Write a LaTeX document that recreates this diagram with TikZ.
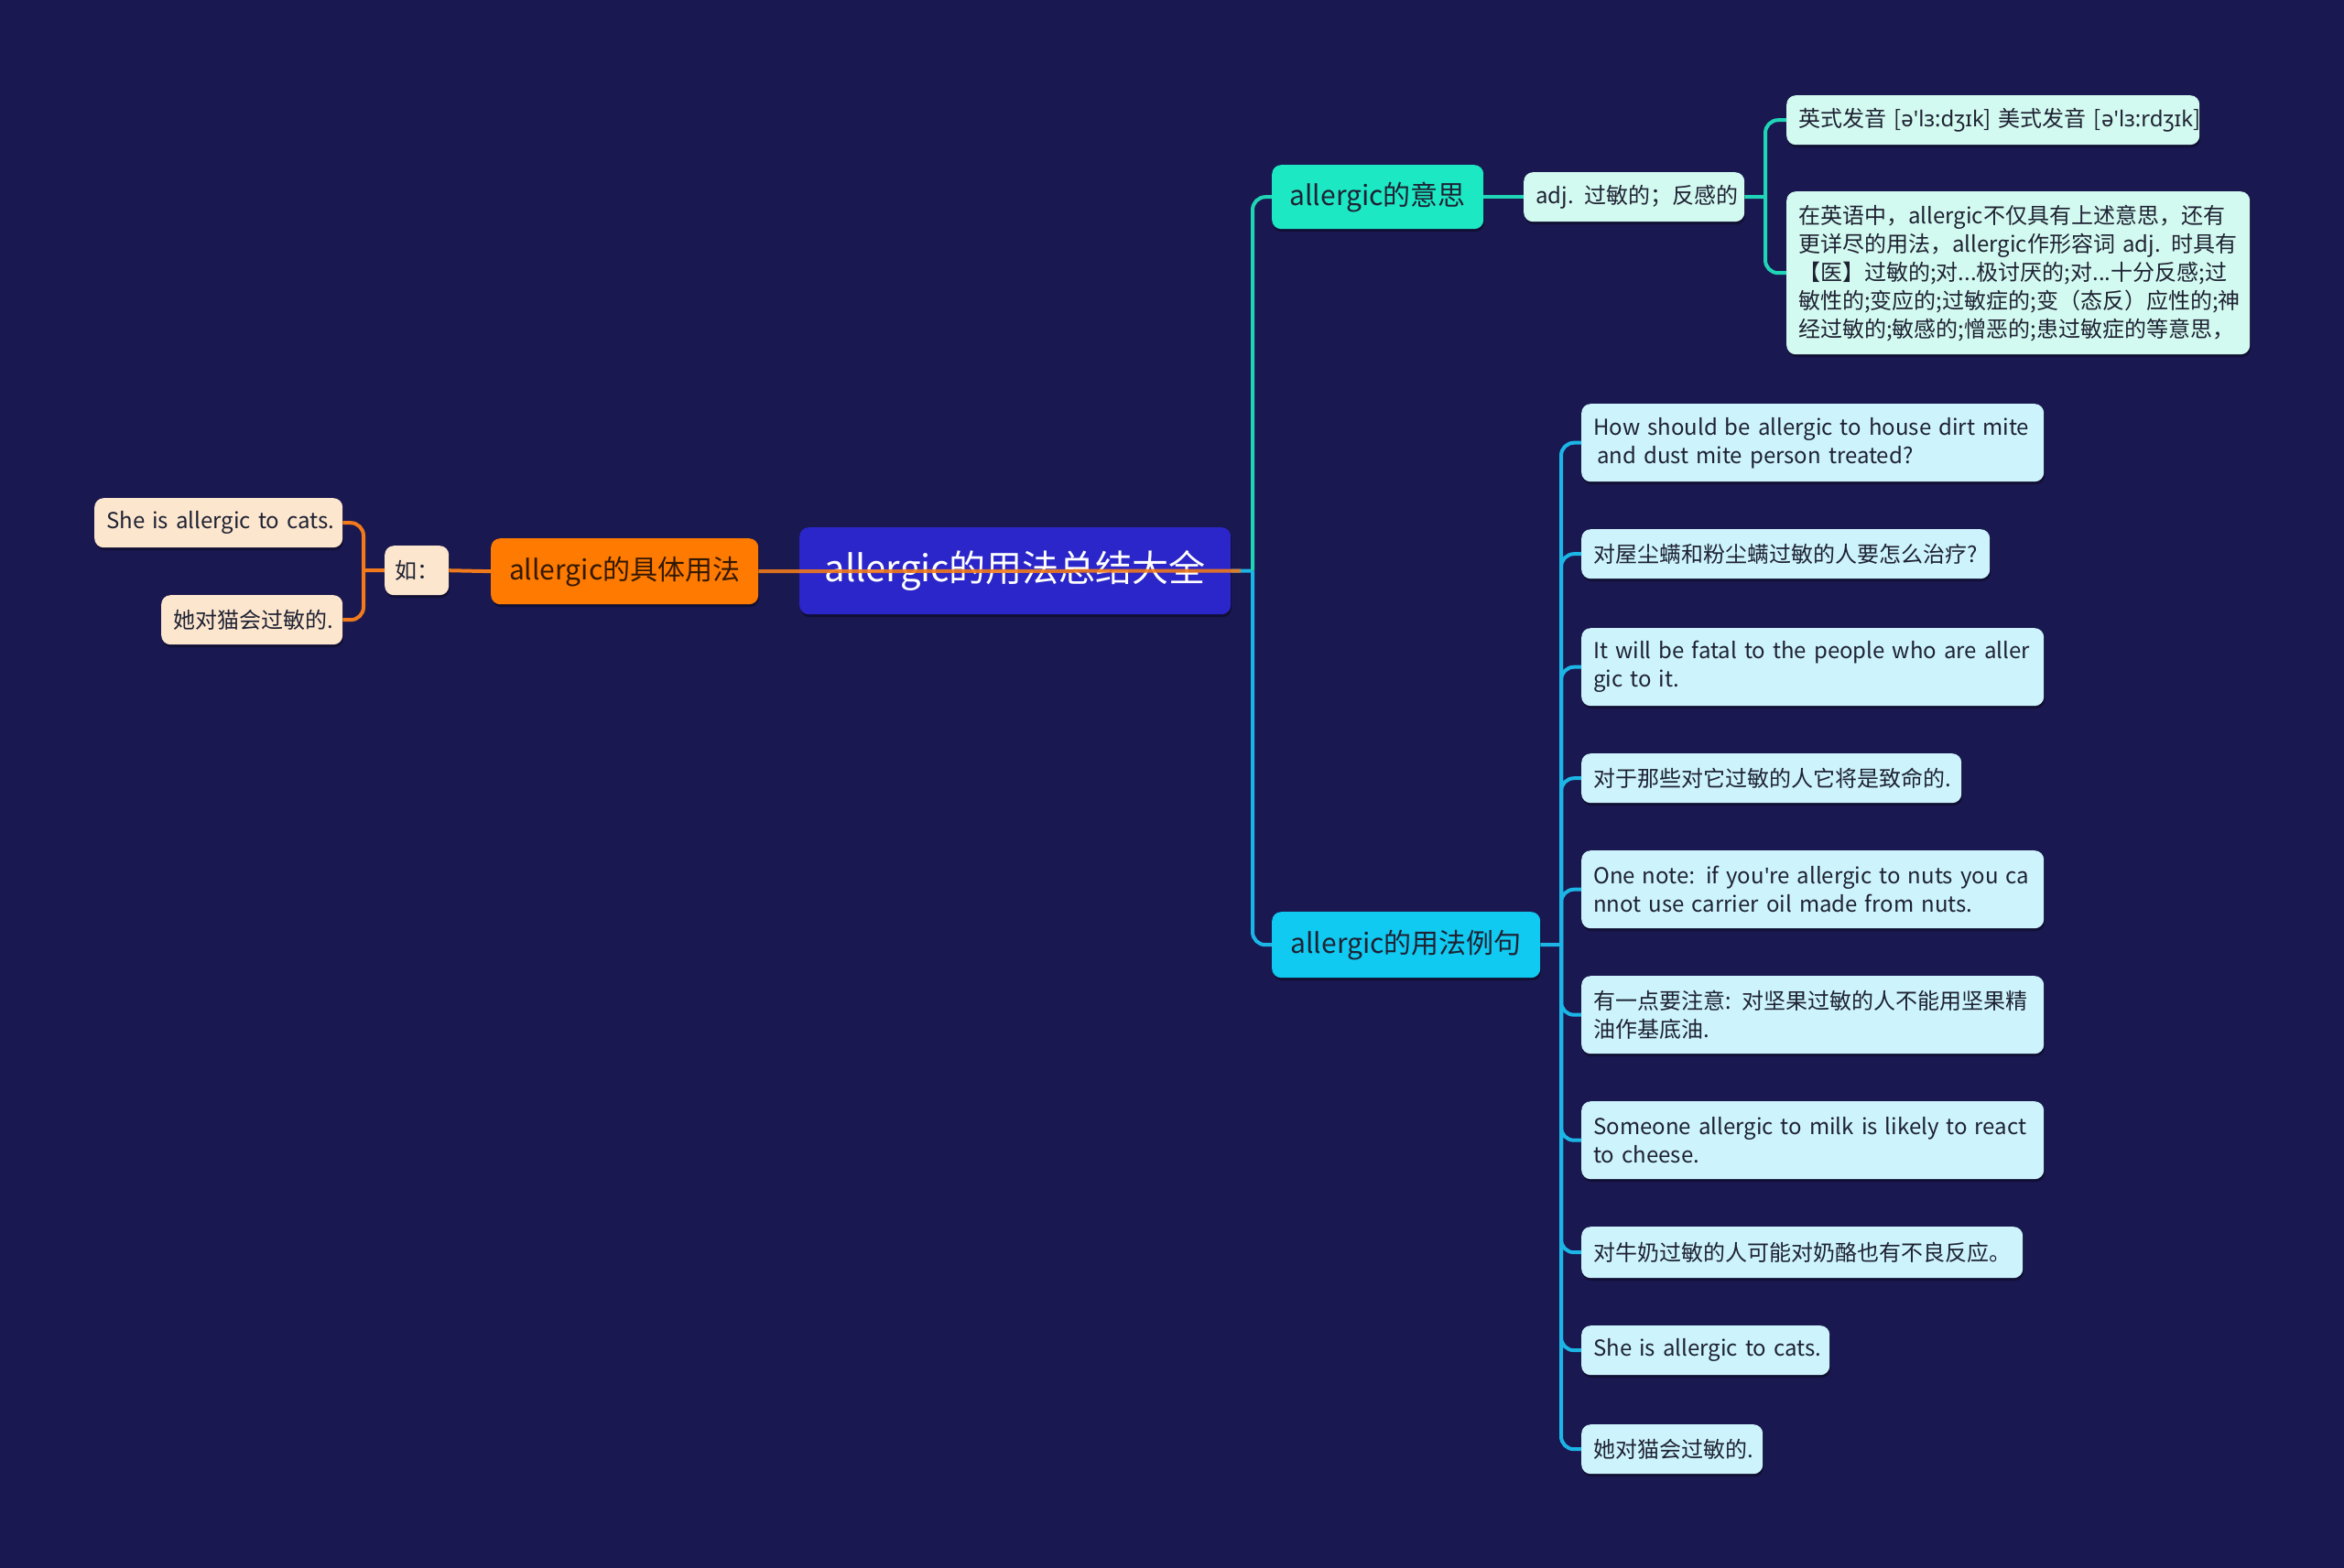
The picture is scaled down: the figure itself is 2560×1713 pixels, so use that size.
\documentclass[tikz,border=0pt]{standalone}
\usepackage{fontspec}
\setmainfont{Noto Sans CJK SC}
\newfontfamily\ipa{Noto Sans}
\usetikzlibrary{shadows}
\definecolor{bg}{HTML}{1A1850}
\definecolor{rootc}{HTML}{2A26C9}
\definecolor{orangec}{HTML}{FF7A00}
\definecolor{peach}{HTML}{FDE6CE}
\definecolor{orline}{HTML}{F07A1C}
\definecolor{tealc}{HTML}{1DE8C4}
\definecolor{mint}{HTML}{D3FAF0}
\definecolor{tealline}{HTML}{20D4B6}
\definecolor{cyanc}{HTML}{10CAF2}
\definecolor{lcyan}{HTML}{CDF4FC}
\definecolor{cyanline}{HTML}{1BB6E6}
\definecolor{darktext}{HTML}{1E2233}
\tikzset{
  box/.style={rounded corners=10pt, anchor=north west, inner sep=0pt, inner xsep=13pt,
    general shadow={fill=black, opacity=0.35, shadow xshift=1pt, shadow yshift=-3pt}},
  rootbox/.style={box, fill=rootc, text=white, font=\fontsize{40}{48}\selectfont, align=center},
  lvbox/.style={box, text=darktext, font=\fontsize{30}{36}\selectfont, align=center},
  leaf/.style={box, text=darktext, font=\fontsize{24}{31}\selectfont, align=left},
  conn/.style={line width=4pt, rounded corners=14pt},
}
\begin{document}
\begin{tikzpicture}[x=1pt,y=-1pt]
\fill[bg] (0,0) rectangle (2560,1713);
\useasboundingbox (0,0) rectangle (2560,1713);

% ---------- nodes ----------
\node[rootbox, minimum width=471pt, minimum height=95pt] (root) at (873,576) {allergic的用法总结大全};

% left branch
\node[lvbox, fill=orangec, text=black!80!orange, minimum width=292pt, minimum height=72pt] (ju) at (536,588) {allergic的具体用法};
\node[leaf, fill=peach, minimum width=70pt, minimum height=54pt, align=center, inner xsep=4pt] (ru) at (420,596) {如：};
\node[leaf, fill=peach, minimum height=54pt, text width=245pt] (sheL) at (103,544) {\mbox{She is allergic to cats.}};
\node[leaf, fill=peach, minimum height=54pt, text width=172pt] (taL) at (176,650) {\mbox{她对猫会过敏的.}};

% right top
\node[lvbox, fill=tealc, minimum width=231pt, minimum height=70pt] (yisi) at (1389,180) {allergic的意思};
\node[leaf, fill=mint, minimum height=54pt, text width=215pt] (adj) at (1664,188) {\mbox{adj. 过敏的；反感的}};
\node[leaf, fill=mint, minimum height=54pt, text width=425pt] (ying) at (1951,104) {\mbox{英式发音 [{\ipa ə\symbol{39}lɜ:dʒɪk}] 美式发音 [{\ipa ə\symbol{39}lɜ:rdʒɪk}]}};
\node[leaf, fill=mint, minimum height=178pt, text width=480pt] (zai) at (1951,209) {%
\mbox{在英语中，allergic不仅具有上述意思，还有}\\
\mbox{更详尽的用法，allergic作形容词 adj. 时具有}\\
\mbox{【医】过敏的;对...极讨厌的;对...十分反感;过}\\
\mbox{敏性的;变应的;过敏症的;变（态反）应性的;神}\\
\mbox{经过敏的;敏感的;憎恶的;患过敏症的等意思，}};

% right bottom
\node[lvbox, fill=cyanc, minimum width=293pt, minimum height=72pt] (li) at (1389,996) {allergic的用法例句};
\node[leaf, fill=lcyan, minimum height=85pt, text width=479pt] (e1) at (1727,441) {\mbox{How should be allergic to house dirt mite}\\\mbox{\hspace{4pt}and dust mite person treated?}};
\node[leaf, fill=lcyan, minimum height=54pt, text width=420pt] (e2) at (1727,578) {\mbox{对屋尘螨和粉尘螨过敏的人要怎么治疗?}};
\node[leaf, fill=lcyan, minimum height=85pt, text width=479pt] (e3) at (1727,686) {\mbox{It will be fatal to the people who are aller}\\\mbox{gic to it.}};
\node[leaf, fill=lcyan, minimum height=54pt, text width=389pt] (e4) at (1727,823) {\mbox{对于那些对它过敏的人它将是致命的.}};
\node[leaf, fill=lcyan, minimum height=85pt, text width=479pt] (e5) at (1727,929) {\mbox{One note{\ipa :} if you{\ipa\symbol{39}}re allergic to nuts you ca}\\\mbox{nnot use carrier oil made from nuts.}};
\node[leaf, fill=lcyan, minimum height=85pt, text width=479pt] (e6) at (1727,1066) {\mbox{有一点要注意{\ipa :} 对坚果过敏的人不能用坚果精}\\\mbox{油作基底油.}};
\node[leaf, fill=lcyan, minimum height=85pt, text width=479pt] (e7) at (1727,1203) {\mbox{Someone allergic to milk is likely to react}\\\mbox{to cheese.}};
\node[leaf, fill=lcyan, minimum height=56pt, text width=456pt] (e8) at (1727,1340) {\mbox{对牛奶过敏的人可能对奶酪也有不良反应。}};
\node[leaf, fill=lcyan, minimum height=54pt, text width=245pt] (e9) at (1727,1448) {\mbox{She is allergic to cats.}};
\node[leaf, fill=lcyan, minimum height=54pt, text width=172pt] (e10) at (1727,1556) {\mbox{她对猫会过敏的.}};

% ---------- junction coordinates ----------
\coordinate (rj) at (1368,623.5);
\coordinate (lj) at (397,623);
\coordinate (aj) at (1928,215);
\coordinate (bj) at (1705,1032);

% ---------- connectors ----------
\draw[conn, cyanline] (root.east) -- (rj);
\draw[conn, tealline] (rj) |- (yisi.west);
\draw[conn, cyanline] (rj) |- (li.west);

\draw[conn, tealline] (yisi.east) -- (adj.west);
\draw[conn, tealline] (adj.east) -- (aj);
\draw[conn, tealline] (aj) |- (ying.west);
\draw[conn, tealline] (aj) |- (zai.west);

\draw[conn, cyanline] (li.east) -- (bj);
\foreach \e in {e1,e2,e3,e4,e5,e6,e7,e8,e9,e10}{
  \draw[conn, cyanline] (bj) |- (\e.west);
}

\draw[conn, orline] (ju.west) -- (ru.east);
\draw[conn, orline] (ru.west) -- (lj);
\draw[conn, orline] (lj) |- (sheL.east);
\draw[conn, orline] (lj) |- (taL.east);
% orange connector drawn across the root, as in the reference
\draw[line width=4pt, orline, opacity=0.9] (ju.east) -- ([xshift=-13pt]rj);
\end{tikzpicture}
\end{document}
